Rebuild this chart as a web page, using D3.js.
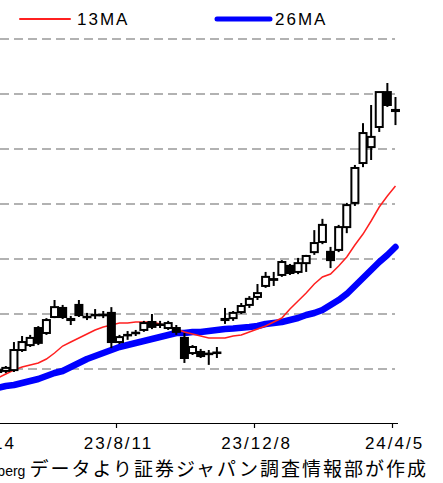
<!DOCTYPE html>
<html>
<head>
<meta charset="utf-8">
<script src="https://cdn.jsdelivr.net/npm/d3@7"></script>
<style>
  body { margin: 0; background: #fff; }
  svg { display: block; }
</style>
</head>
<body>
<svg id="vis" width="443" height="483"></svg>
<script>
// weekly candles, Monday-dated, May 2023 .. Apr 2024
const weeks = d3.timeMonday.range(new Date(2023, 4, 1), new Date(2024, 3, 9));

const open  = [1945,1965,1980,2345,2435,2745,2655,2945,3110,2910,3165,2950,2985,2980,3020,2490,2620,2650,2710,2855,2800,2745,2745,2565,2290,2310,2280,2290,2890,2925,3035,3165,3310,3510,3635,3710,3875,3765,3925,4125,4310,4130,4165,4580,5020,5745,6035,6400,7035,6710];
const high  = [2000,2055,2490,2600,2620,2780,2925,3255,3165,2965,3255,3020,3090,3055,3125,2620,2690,2710,2875,3000,2875,2875,2800,2655,2435,2365,2345,2400,3110,3055,3200,3325,3545,3765,3765,3980,3910,4020,4075,4525,4730,4220,4620,5020,5710,6470,6800,7040,7200,6945];
const low   = [1910,1925,1945,2310,2400,2435,2620,2925,2910,2800,2945,2890,2910,2925,2380,2455,2530,2600,2675,2725,2745,2710,2620,2110,2255,2200,2075,2200,2820,2875,3000,3110,3255,3475,3510,3675,3710,3725,3765,4075,4270,3835,4125,4470,4965,5670,5800,6310,6765,6435];
const close = [1980,2020,2345,2490,2565,2475,2890,3125,2945,2890,2980,2945,2980,2985,2490,2580,2615,2660,2835,2765,2810,2835,2675,2200,2400,2235,2270,2300,2910,3020,3145,3275,3380,3675,3620,3945,3745,3925,4055,4290,4620,3980,4580,4980,5655,6290,6220,7035,6800,6690];

const ma13 = [1836,1909,1982,2036,2073,2109,2182,2291,2418,2491,2564,2636,2709,2764,2800,2836,2836,2855,2855,2855,2820,2782,2727,2673,2636,2600,2564,2564,2564,2600,2618,2673,2727,2782,2855,2927,3091,3236,3382,3545,3673,3727,3873,4036,4254,4454,4691,4945,5145,5327];
const ma26 = [1655,1691,1709,1745,1782,1818,1873,1927,1964,2036,2109,2182,2236,2291,2345,2400,2436,2473,2509,2545,2582,2618,2654,2654,2673,2673,2691,2709,2727,2736,2750,2764,2782,2818,2836,2855,2891,2927,2982,3018,3073,3164,3254,3364,3509,3654,3800,3945,4073,4218];

const gridValues = [2000, 3000, 4000, 5000, 6000, 7000, 8000];
const tickDates = [new Date(2023, 3, 14), new Date(2023, 7, 11), new Date(2023, 11, 8), new Date(2024, 3, 5)];
const tickLabels = ["23/4/14", "23/8/11", "23/12/8", "24/4/5"];

const svg = d3.select("#vis");

const x = d3.scaleTime()
  .domain([new Date(2023, 7, 11), new Date(2024, 3, 5)])
  .range([116, 392]);
const y = d3.scaleLinear().domain([2000, 8000]).range([369, 39]);

// dashed grid
svg.append("g").selectAll("line")
  .data(gridValues)
  .join("line")
  .attr("x1", 0).attr("x2", 395)
  .attr("y1", d => y(d)).attr("y2", d => y(d))
  .attr("stroke", "#999")
  .attr("stroke-width", 1.6)
  .attr("stroke-dasharray", "9,5");

// moving averages
const line = d3.line().x((d, i) => x(weeks[i])).y(d => y(d));
svg.append("path").datum(ma26)
  .attr("d", line)
  .attr("fill", "none")
  .attr("stroke", "#0000ff")
  .attr("stroke-width", 6.5)
  .attr("stroke-linejoin", "round")
  .attr("stroke-linecap", "round");
svg.append("path").datum(ma13)
  .attr("d", line)
  .attr("fill", "none")
  .attr("stroke", "#ff2020")
  .attr("stroke-width", 1.5);

// candles
const candles = svg.append("g").selectAll("g")
  .data(weeks)
  .join("g");
candles.append("line")
  .attr("x1", (d, i) => x(d)).attr("x2", (d, i) => x(d))
  .attr("y1", (d, i) => y(high[i])).attr("y2", (d, i) => y(low[i]))
  .attr("stroke", "#000").attr("stroke-width", 2);
candles.append("rect")
  .attr("x", d => x(d) - 3.5)
  .attr("width", 7)
  .attr("y", (d, i) => y(Math.max(open[i], close[i])))
  .attr("height", (d, i) => Math.max(0.5, Math.abs(y(open[i]) - y(close[i]))))
  .attr("fill", (d, i) => close[i] >= open[i] ? "#fff" : "#000")
  .attr("stroke", "#000")
  .attr("stroke-width", 2);

// x axis
const xAxis = d3.axisBottom(x)
  .tickValues(tickDates)
  .tickFormat((d, i) => tickLabels[i])
  .tickSize(5)
  .tickSizeOuter(0);
const gx = svg.append("g").attr("transform", "translate(0,423)").call(xAxis);
gx.select(".domain").attr("d", "M0,0.5H398").attr("stroke", "#000").attr("stroke-width", 1.2);
gx.selectAll(".tick line").attr("stroke", "#000").attr("stroke-width", 1.2);
gx.selectAll(".tick text")
  .attr("dx", 2)
  .attr("y", 14)
  .attr("font-family", "Liberation Sans, Arial, sans-serif")
  .attr("font-size", 17)
  .attr("letter-spacing", "2px")
  .attr("fill", "#000");

// legend
const legend = [
  { label: "13MA", color: "#ff2020", width: 2, x1: 20, x2: 70, tx: 77 },
  { label: "26MA", color: "#0000ff", width: 5, x1: 217, x2: 270, tx: 275 }
];
const lg = svg.append("g").selectAll("g").data(legend).join("g");
lg.append("line")
  .attr("x1", d => d.x1).attr("x2", d => d.x2)
  .attr("y1", 19).attr("y2", 19)
  .attr("stroke", d => d.color)
  .attr("stroke-width", d => d.width)
  .attr("stroke-linecap", "round");
lg.append("text")
  .attr("x", d => d.tx).attr("y", 25)
  .attr("font-family", "Liberation Sans, Arial, sans-serif")
  .attr("font-size", 17)
  .attr("letter-spacing", "2px")
  .text(d => d.label);

// source note
const note = svg.append("text")
  .attr("x", 428).attr("y", 476)
  .attr("text-anchor", "end")
  .attr("font-family", "Noto Sans CJK JP, sans-serif");
note.append("tspan")
  .attr("font-family", "Liberation Sans, Arial, sans-serif")
  .attr("font-size", 14)
  .text("Bloomberg");
note.append("tspan")
  .attr("dx", 4)
  .attr("font-size", 19)
  .attr("letter-spacing", "2px")
  .text("データより証券ジャパン調査情報部が作成");
</script>
</body>
</html>
